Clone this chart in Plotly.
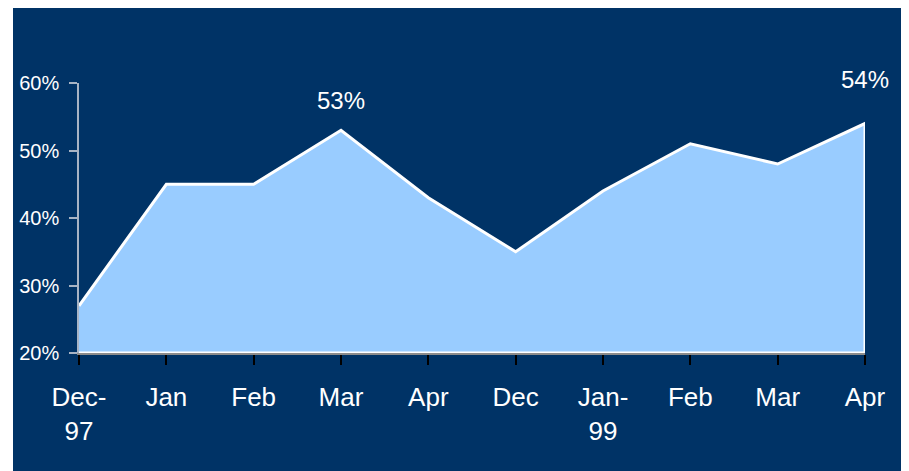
import plotly.graph_objects as go

categories = ["Dec-<br>97", "Jan", "Feb", "Mar", "Apr", "Dec", "Jan-<br>99", "Feb", "Mar", "Apr"]
values = [0.27, 0.45, 0.45, 0.53, 0.43, 0.35, 0.44, 0.51, 0.48, 0.54]
y_ticks = [0.2, 0.3, 0.4, 0.5, 0.6]
y_labels = ["20%", "30%", "40%", "50%", "60%"]
labelled = [3, 9]  # indices with value labels

NAVY = "#003366"
FILL = "#99CCFF"
FONT = "Arial, Liberation Sans, sans-serif"

pos = list(range(len(categories)))
floor = y_ticks[0]

fig = go.Figure()
fig.add_trace(go.Scatter(
    x=pos + [pos[-1], pos[0]],
    y=values + [floor, floor],
    fill="toself",
    fillcolor=FILL,
    mode="lines",
    line=dict(color="white", width=3),
    hoverinfo="skip",
    showlegend=False,
))

for i in labelled:
    fig.add_annotation(
        x=pos[i], y=values[i], text=f"{round(values[i]*100)}%",
        showarrow=False, yanchor="bottom", yshift=14 if i != 9 else 29,
        font=dict(family=FONT, size=24, color="white"),
    )

# page body has an 8px offset; plot area spans x 79..865, y 83..353 on screen
fig.add_shape(type="rect", xref="paper", yref="paper",
              x0=(13 - 79) / 786, x1=(907 - 79) / 786,
              y0=(353 - 475) / 270, y1=(353 - 8) / 270,
              fillcolor=NAVY, line=dict(width=0), layer="below")

fig.update_layout(
    width=901, height=463,
    margin=dict(l=71, r=44, t=75, b=118),
    paper_bgcolor="white",
    plot_bgcolor=NAVY,
    font=dict(family=FONT, color="white"),
    showlegend=False,
)
fig.update_xaxes(
    range=[0, 9], tickvals=pos, ticktext=categories,
    showgrid=False, zeroline=False,
    showline=True, linecolor="#8C8C8C", linewidth=2,
    ticks="outside", ticklen=10, tickwidth=2, tickcolor="black",
    ticklabelstandoff=10,
    tickfont=dict(family=FONT, size=26, color="white"),
)
fig.update_yaxes(
    range=[0.2, 0.6], tickvals=y_ticks, ticktext=y_labels,
    showgrid=False, zeroline=False,
    showline=True, linecolor="#A8B4C4", linewidth=1.5,
    ticks="outside", ticklen=8, tickwidth=1.5, tickcolor="#A8B4C4",
    ticklabelstandoff=6,
    tickfont=dict(family=FONT, size=20, color="white"),
)

fig.write_html("out.html")
